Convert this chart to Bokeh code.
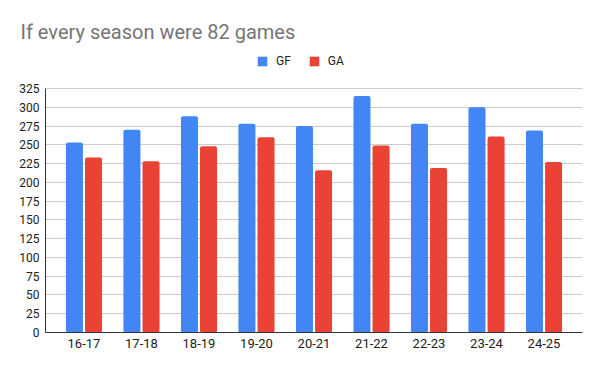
from bokeh.plotting import figure
from bokeh.models import ColumnDataSource, FactorRange, Range1d, Legend, LegendItem, FixedTicker
from bokeh.transform import dodge
from bokeh.embed import file_html
from bokeh.resources import INLINE

seasons = ["16-17", "17-18", "18-19", "19-20", "20-21", "21-22", "22-23", "23-24", "24-25"]
gf = [253, 270, 288, 278, 275, 315, 278, 300, 269]
ga = [233, 228, 248, 260, 216, 249, 219, 261, 227]
y_ticks = list(range(0, 326, 25))

src = ColumnDataSource(dict(season=seasons, gf=gf, ga=ga))

# frame spans 284 px; the 0..325 value axis occupies the lower 244 px
p = figure(width=584, height=355, output_backend="svg", toolbar_location=None,
           x_range=FactorRange(factors=seasons, range_padding=0.169, range_padding_units="absolute"),
           y_range=Range1d(0, 325 * 284 / 244),
           min_border_left=45, min_border_right=2, min_border_top=48, min_border_bottom=23)

p.title.text = "If every season were 82 games"
p.title.text_font = "Roboto"
p.title.text_font_size = "20px"
p.title.text_font_style = "normal"
p.title.text_color = "#757575"
p.title.align = "left"
p.title.offset = -25
p.title.standoff = 10

r1 = p.vbar(x=dodge("season", -0.166, range=p.x_range), top="gf", width=0.296, source=src,
            color="#4285F4", line_color=None, border_radius=2)
r2 = p.vbar(x=dodge("season", 0.166, range=p.x_range), top="ga", width=0.296, source=src,
            color="#EA4335", line_color=None, border_radius=2)

legend = Legend(items=[LegendItem(label="GF", renderers=[r1]), LegendItem(label="GA", renderers=[r2])],
                orientation="horizontal", location=(211, 264),
                glyph_width=12, glyph_height=12, label_standoff=8, spacing=17,
                label_text_font="Roboto", label_text_font_size="12px", label_text_color="#222222",
                label_height=12, label_width=0, padding=0, margin=0, border_line_color=None,
                background_fill_alpha=0)
p.add_layout(legend, "center")

p.outline_line_color = None
p.xgrid.grid_line_color = None
p.ygrid.grid_line_color = "#cccccc"
p.ygrid.ticker = FixedTicker(ticks=y_ticks)
p.yaxis.ticker = FixedTicker(ticks=y_ticks)
p.yaxis.bounds = (0, 325)

for ax in (p.xaxis, p.yaxis):
    ax.axis_line_color = "#333333"
    ax.major_tick_line_color = None
    ax.minor_tick_line_color = None
    ax.major_tick_out = 0
    ax.major_tick_in = 0
    ax.minor_tick_out = 0
    ax.major_label_text_font = "Roboto"
    ax.major_label_text_color = "#222222"
p.yaxis.major_label_text_font_size = "12px"
p.xaxis.major_label_text_font_size = "13px"
p.yaxis.major_label_standoff = 6
p.xaxis.major_label_standoff = 6

open("out.html", "w").write(file_html(p, INLINE))
